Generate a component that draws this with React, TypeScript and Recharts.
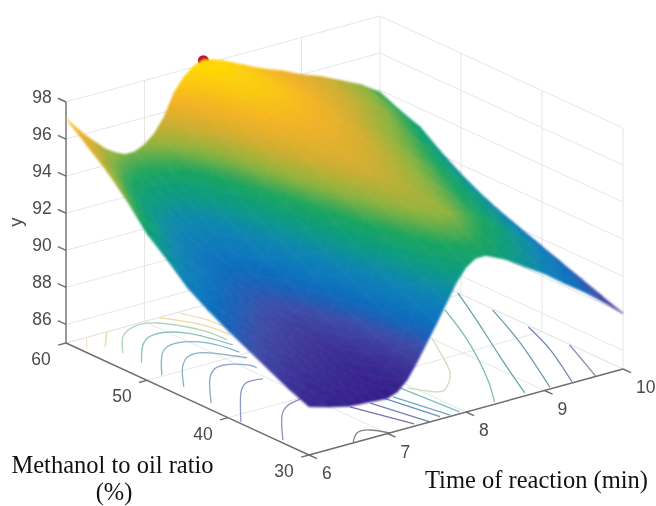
import { ScatterChart, Scatter, XAxis, YAxis } from "recharts";

const W = 656;
const H = 506;

// surface heights: one list per reaction time, ratio 60 down to 30
const ratios = [60, 57.5, 55, 52.5, 50, 47.5, 45, 42.5, 40, 37.5, 35, 32.5, 30];
const times = [6, 6.25, 6.5, 6.625, 6.75, 6.875, 7, 7.125, 7.25, 7.375, 7.5, 7.625, 7.75, 7.875, 8, 8.125, 8.25, 8.5, 8.75, 9, 9.25, 9.5, 9.75, 10];
const surfaceColumns = [
  [97.1, 96.2, 95.3, 94.2, 92.9, 92.0, 91.0, 90.3, 89.7, 89.15, 88.6, 88.05, 87.6],
  [95.9, 94.9, 93.9, 92.9, 91.9, 91.1, 90.3, 89.75, 89.2, 88.7, 88.2, 87.7, 87.3],
  [94.9, 93.75, 92.7, 91.8, 91.0, 90.4, 89.8, 89.3, 88.8, 88.35, 87.9, 87.45, 87.05],
  [94.55, 93.35, 92.25, 91.35, 90.65, 90.1, 89.6, 89.1, 88.65, 88.2, 87.8, 87.4, 87.0],
  [94.3, 93.05, 91.9, 91.05, 90.4, 89.9, 89.4, 88.95, 88.5, 88.1, 87.7, 87.3, 86.97],
  [94.3, 92.9, 91.7, 90.9, 90.25, 89.75, 89.25, 88.8, 88.4, 88.0, 87.6, 87.25, 86.93],
  [94.55, 92.95, 91.6, 90.85, 90.2, 89.7, 89.2, 88.75, 88.3, 87.9, 87.5, 87.2, 86.9],
  [95.0, 93.3, 91.95, 91.1, 90.45, 89.9, 89.4, 88.9, 88.5, 88.05, 87.65, 87.35, 87.1],
  [95.75, 94.1, 92.8, 91.9, 91.2, 90.6, 90.0, 89.45, 88.9, 88.45, 88.0, 87.75, 87.6],
  [96.9, 95.3, 94.0, 93.0, 92.3, 91.7, 91.15, 90.45, 89.8, 89.25, 88.8, 88.55, 88.4],
  [97.6, 96.4, 95.4, 94.6, 94.0, 93.25, 92.5, 91.75, 91.0, 90.4, 89.9, 89.55, 89.3],
  [98.05, 97.1, 96.4, 95.8, 95.2, 94.6, 93.9, 93.1, 92.4, 91.8, 91.2, 90.7, 90.2],
  [98.25, 97.6, 97.2, 96.6, 96.0, 95.5, 95.0, 94.4, 93.8, 93.2, 92.5, 91.8, 91.15],
  [98.1, 97.7, 97.4, 96.85, 96.3, 95.9, 95.5, 95.0, 94.6, 94.1, 93.5, 92.8, 92.1],
  [97.9, 97.6, 97.4, 96.9, 96.4, 96.05, 95.8, 95.45, 95.1, 94.7, 94.2, 93.5, 92.8],
  [97.65, 97.45, 97.3, 96.85, 96.4, 96.0, 95.7, 95.4, 95.1, 94.8, 94.5, 93.85, 93.15],
  [97.4, 97.25, 97.1, 96.7, 96.3, 95.95, 95.6, 95.3, 95.0, 94.8, 94.6, 93.9, 93.15],
  [96.9, 96.75, 96.6, 96.3, 96.0, 95.6, 95.2, 94.9, 94.6, 94.3, 94.0, 93.35, 92.66],
  [96.5, 96.3, 96.1, 95.75, 95.4, 95.05, 94.7, 94.4, 94.1, 93.75, 93.4, 92.7, 91.96],
  [96.0, 95.8, 95.6, 95.2, 94.8, 94.5, 94.2, 93.8, 93.4, 93.0, 92.6, 91.95, 91.3],
  [95.6, 95.35, 95.1, 94.7, 94.3, 93.9, 93.5, 93.05, 92.6, 92.2, 91.8, 91.15, 90.5],
  [95.1, 94.85, 94.6, 94.15, 93.7, 93.2, 92.7, 92.25, 91.8, 91.35, 90.9, 90.3, 89.75],
  [94.6, 94.3, 93.9, 93.3, 92.7, 92.15, 91.6, 91.15, 90.7, 90.3, 89.9, 89.4, 88.9],
  [93.9, 93.4, 93.0, 92.2, 91.5, 90.9, 90.4, 90.0, 89.6, 89.2, 88.8, 88.4, 88.0],
];

const timeTicks = [6, 7, 8, 9, 10];
const ratioTicks = [30, 40, 50, 60];
const yTicks = [86, 88, 90, 92, 94, 96, 98];
const peak = { t: 7.75, r: 60, z: 98.2 };

// floor contours as [time, ratio] pairs, with their colours
const contourColors = [
  "#8e8fc0", "#8f99c2", "#8ea6c8", "#86b0c8", "#7fb8c4", "#8cc4bc", "#b0d4b8", "#ecdca0", "#f3e3c0", "#f0d8a0", "#f3e0b8",
  "#808090", "#7a70b0", "#6f80b8", "#6a90c0", "#6aa8c0", "#7ac0c0", "#cfdcc0", "#7fc0a8", "#60a8a8", "#6a9cb0", "#7088b0", "#8088b0",
];
const contourPaths = [
  [[6.05, 33.7], [6.52, 38.3], [6.79, 39.6], [6.9, 39.8]],
  [[6.03, 38.7], [6.53, 43.55], [6.78, 45.1], [6.95, 44.9]],
  [[6.12, 43.25], [6.51, 47.2], [6.83, 49.06], [7.07, 48], [7.09, 47]],
  [[6.18, 47.2], [6.55, 50.9], [6.87, 52.3], [7.08, 50.6], [7.19, 49.2]],
  [[6.21, 50.2], [6.6, 53.9], [6.89, 54.9], [7.13, 53.5], [7.23, 50.5]],
  [[6.26, 53.2], [6.54, 55.8], [6.83, 57.35], [7.14, 56.1], [7.3, 52]],
  [[6.28, 55.7], [6.56, 58.4], [6.81, 59.6], [7.07, 59.2], [7.3, 56], [7.34, 53.1]],
  [[6.24, 57.5], [6.52, 60]],
  [[6.08, 58.2], [6.25, 59.9]],
  [[7.19, 59.9], [7.41, 56.7], [7.45, 53.8]],
  [[7.43, 59.8], [7.53, 57.4], [7.56, 54.5]],
  [[6.58, 30.16], [6.77, 31.5], [6.92, 31.4], [7.03, 30]],
  [[7.38, 30.4], [7.16, 36.2]],
  [[7.54, 30], [7.39, 35.9]],
  [[7.71, 30.4], [7.58, 36.2]],
  [[7.82, 30.2], [7.68, 35.9]],
  [[7.95, 30.3], [7.89, 37.1]],
  [[7.95, 36.75], [8.12, 34.7], [8.28, 35.1], [8.55, 37.3], [8.82, 41.1], [9.01, 44]],
  [[8.4, 30.35], [8.77, 34.9], [9.26, 42.06], [9.6, 48.1]],
  [[8.8, 30.5], [9.23, 37.7], [9.68, 45], [10, 50.4]],
  [[9.1, 30.3], [9.63, 39.1], [9.98, 45.9]],
  [[9.37, 30.2], [9.75, 36.55], [9.97, 41.4]],
  [[9.66, 30.1], [9.99, 36.5]],
];

// fixed orthographic view of the MATLAB box
const project = (t: number, r: number, z: number) => ({
  x: 309 + 78.5 * (t - 6) - 8.1 * (r - 30),
  y: 455 - 21.5 * (t - 6) - 3.733 * (r - 30) - 18.54 * (z - 85),
});

const colorStops: [number, number[]][] = [
  [86.9, [52, 28, 138]],
  [88, [60, 48, 150]],
  [89, [62, 76, 168]],
  [89.7, [22, 100, 185]],
  [90.5, [8, 118, 190]],
  [91.5, [10, 135, 175]],
  [92.5, [11, 155, 130]],
  [93.5, [26, 165, 96]],
  [94.5, [142, 179, 62]],
  [95.5, [208, 174, 48]],
  [96.5, [243, 178, 37]],
  [98, [255, 216, 0]],
];

const colorOf = (z: number) => {
  if (z <= colorStops[0][0]) return `rgb(${colorStops[0][1].join(",")})`;
  for (let i = 1; i < colorStops.length; i++) {
    const [z1, c1] = colorStops[i];
    if (z <= z1) {
      const [z0, c0] = colorStops[i - 1];
      const f = (z - z0) / (z1 - z0);
      return `rgb(${c0.map((c, k) => Math.round(c + (c1[k] - c) * f)).join(",")})`;
    }
  }
  return `rgb(${colorStops[colorStops.length - 1][1].join(",")})`;
};

const surfacePoints = surfaceColumns.flatMap((col, j) =>
  col.map((z, i) => ({ ...project(times[j], ratios[i], z), z })),
);

// one triangle, shaded along the direction in which its height changes
const Facet = ({ id, a, b, c }: any) => {
  const det = (b.x - a.x) * (c.y - a.y) - (c.x - a.x) * (b.y - a.y);
  const pts = `${a.x},${a.y} ${b.x},${b.y} ${c.x},${c.y}`;
  const zs = [a.z, b.z, c.z];
  const lo = Math.min(...zs);
  const hi = Math.max(...zs);
  const mid = colorOf((lo + hi) / 2);
  if (Math.abs(det) < 0.5 || hi - lo < 0.001) {
    return <polygon points={pts} fill={mid} stroke={mid} strokeWidth={0.5} />;
  }
  const gx = ((b.z - a.z) * (c.y - a.y) - (c.z - a.z) * (b.y - a.y)) / det;
  const gy = ((c.z - a.z) * (b.x - a.x) - (b.z - a.z) * (c.x - a.x)) / det;
  const start = [a, b, c].find((p) => p.z === lo);
  const k = (hi - lo) / (gx * gx + gy * gy);
  return (
    <>
      <linearGradient id={id} gradientUnits="userSpaceOnUse" x1={start.x} y1={start.y} x2={start.x + gx * k} y2={start.y + gy * k}>
        {[0, 0.25, 0.5, 0.75, 1].map((o) => (
          <stop key={o} offset={o} stopColor={colorOf(lo + (hi - lo) * o)} />
        ))}
      </linearGradient>
      <polygon points={pts} fill={`url(#${id})`} stroke={`url(#${id})`} strokeWidth={0.6} strokeLinejoin="round" />
    </>
  );
};

// painted from the far corner to the near one
const SurfaceMesh = ({ points }: any) => {
  const nr = ratios.length;
  const at = (j: number, i: number) => ({ ...points[j * nr + i], z: surfacePoints[j * nr + i].z });
  const facets: any[] = [];
  for (let i = 0; i < nr - 1; i++) {
    for (let j = times.length - 2; j >= 0; j--) {
      const p = at(j + 1, i);
      const q = at(j, i);
      const s = at(j + 1, i + 1);
      const u = at(j, i + 1);
      facets.push(<Facet key={`f${i}-${j}a`} id={`f${i}-${j}a`} a={p} b={q} c={s} />);
      facets.push(<Facet key={`f${i}-${j}b`} id={`f${i}-${j}b`} a={q} b={s} c={u} />);
    }
  }
  return (
    <g>
      <filter id="soften" x="-5%" y="-5%" width="110%" height="110%">
        <feGaussianBlur stdDeviation="0.9" />
      </filter>
      <g filter="url(#soften)">{facets}</g>
    </g>
  );
};

const noDot = () => <g />;

const seg = (a: number[], b: number[]) => [project(a[0], a[1], a[2]), project(b[0], b[1], b[2])];

const gridSegments = [
  ...yTicks.concat(85).flatMap((z) => [seg([6, 60, z], [10, 60, z]), seg([10, 60, z], [10, 30, z])]),
  ...timeTicks.slice(1).map((t) => seg([t, 60, 85], [t, 60, 98])),
  ...ratioTicks.slice(0, 3).map((r) => seg([10, r, 85], [10, r, 98])),
  ...timeTicks.map((t) => seg([t, 30, 85], [t, 60, 85])),
  ...ratioTicks.map((r) => seg([6, r, 85], [10, r, 85])),
];

const axisSegments = [
  seg([6, 60, 85], [6, 60, 98]),
  seg([6, 60, 85], [6, 30, 85]),
  seg([6, 30, 85], [10, 30, 85]),
  ...yTicks.map((z) => seg([6, 60, z], [6, 61, z])),
  ...ratioTicks.map((r) => seg([6, r, 85], [5.9, r, 85])),
  ...timeTicks.map((t) => seg([t, 30, 85], [t, 29, 85])),
];

const yLabels = yTicks.map((z) => ({ ...project(6, 60, z), label: String(z) }));
const ratioLabels = ratioTicks.map((r) => ({ ...project(6, r, 85), label: String(r) }));
const timeLabels = timeTicks.map((t) => ({ ...project(t, 30, 85), label: String(t) }));

const tickText = (dx: number, dy: number, anchor: string) => (props: any) => (
  <text
    x={props.cx + dx}
    y={props.cy + dy}
    textAnchor={anchor}
    fontFamily="Liberation Sans"
    fontSize={17.5}
    fill="#4a4a4a"
  >
    {props.payload.label}
  </text>
);

const serif = { fontFamily: "Liberation Serif", fill: "#111" };

export default function App() {
  return (
    <div style={{ position: "absolute", left: 0, top: 0, width: W, height: H, filter: "blur(0.6px)" }}>
      <ScatterChart width={W} height={H} margin={{ top: 0, right: 0, bottom: 0, left: 0 }}>
        <XAxis type="number" dataKey="x" domain={[0, W]} hide />
        <YAxis type="number" dataKey="y" domain={[0, H]} reversed hide />
        {gridSegments.map((d, i) => (
          <Scatter key={`g${i}`} data={d} shape={noDot} line={{ stroke: "#e6e6e6", strokeWidth: 1 }} isAnimationActive={false} />
        ))}
        {contourPaths.map((path, i) => (
          <Scatter
            key={`c${i}`}
            data={path.map(([t, r]) => project(t, r, 85))}
            shape={noDot}
            line={{ stroke: contourColors[i], strokeWidth: 1.3 }}
            lineJointType="natural"
            isAnimationActive={false}
          />
        ))}
        {axisSegments.map((d, i) => (
          <Scatter key={`a${i}`} data={d} shape={noDot} line={{ stroke: "#6e6e6e", strokeWidth: 1.4 }} isAnimationActive={false} />
        ))}
        <Scatter
          data={[project(peak.t, peak.r, peak.z)]}
          shape={(p: any) => <circle cx={p.cx} cy={p.cy} r={5.5} fill="#c4122f" />}
          isAnimationActive={false}
        />
        <Scatter
          data={surfacePoints}
          shape={noDot}
          line={(p: any) => <SurfaceMesh points={p.points} />}
          isAnimationActive={false}
        />
        <Scatter data={yLabels} shape={tickText(-24, 1, "middle")} isAnimationActive={false} />
        <Scatter data={ratioLabels} shape={tickText(-25, 22, "middle")} isAnimationActive={false} />
        <Scatter data={timeLabels} shape={tickText(13, 24, "start")} isAnimationActive={false} />
        <text x={17} y={222} textAnchor="middle" transform="rotate(-90 17 222)" dominantBaseline="middle" fontFamily="Liberation Sans" fontSize={18.5} fill="#4a4a4a">
          y
        </text>
        <text x={112.5} y={473} textAnchor="middle" fontSize={24.5} {...serif}>
          Methanol to oil ratio
        </text>
        <text x={114} y={500} textAnchor="middle" fontSize={24.5} {...serif}>
          (%)
        </text>
        <text x={536.5} y={488} textAnchor="middle" fontSize={24.5} {...serif}>
          Time of reaction (min)
        </text>
      </ScatterChart>
    </div>
  );
}
